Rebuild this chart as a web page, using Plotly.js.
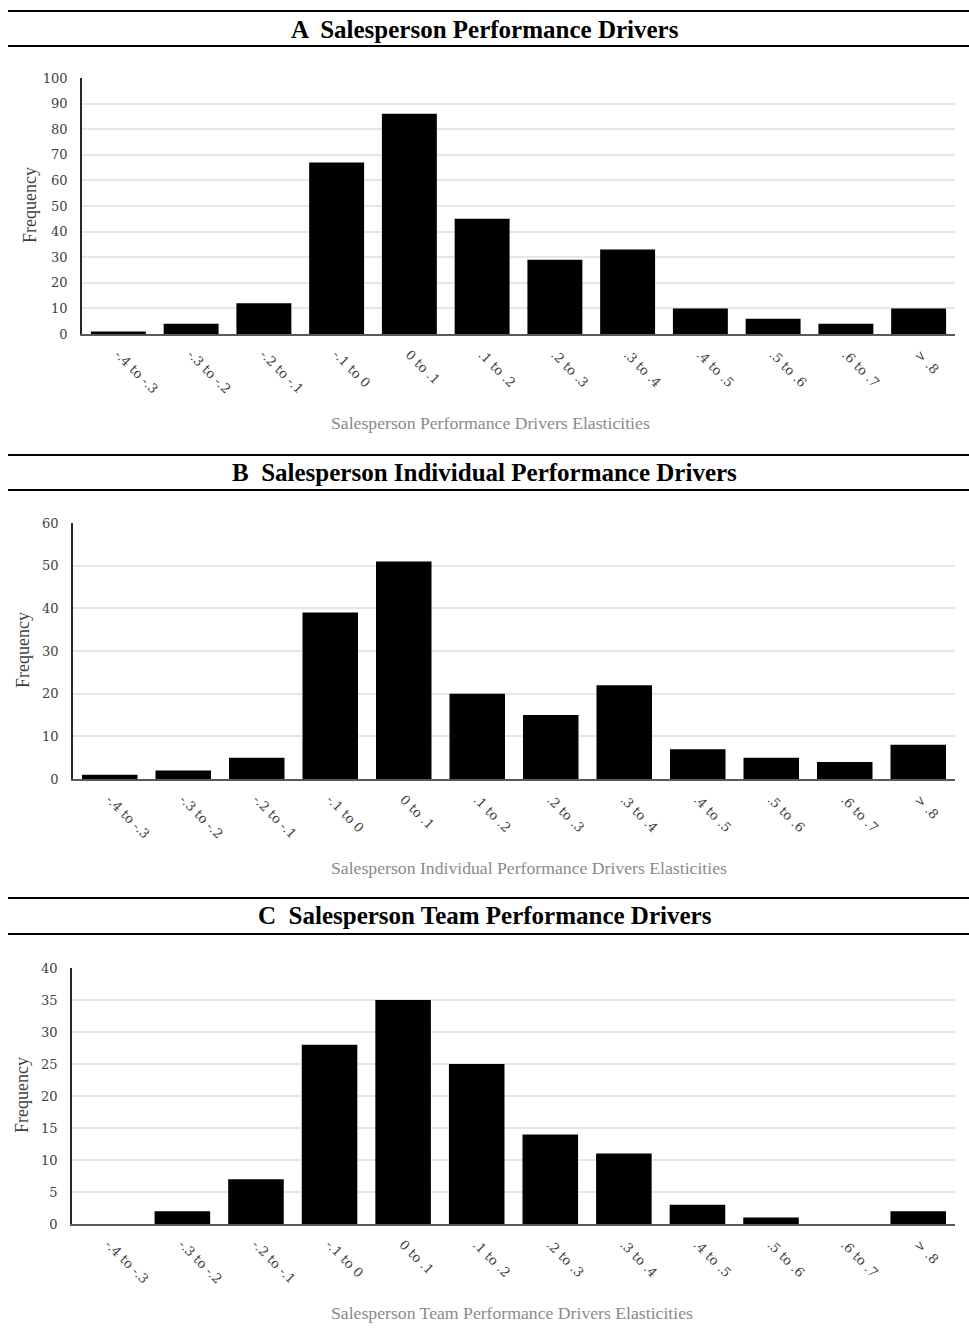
<!DOCTYPE html>
<html>
<head>
<meta charset="utf-8">
<script src="https://cdn.plot.ly/plotly-3.0.1.min.js"></script>
<style>html,body{margin:0;padding:0;background:#fff;}#chart{width:969px;height:1333px;}</style>
</head>
<body>
<div id="chart"></div>
<script>
const categories = ["-.4 to -.3", "-.3 to -.2", "-.2 to -.1", "-.1 to 0", "0 to .1", ".1 to .2", ".2 to .3", ".3 to .4", ".4 to .5", ".5 to .6", ".6 to .7", "> .8"];
const valuesA = [1, 4, 12, 67, 86, 45, 29, 33, 10, 6, 4, 10];
const valuesB = [1, 2, 5, 39, 51, 20, 15, 22, 7, 5, 4, 8];
const valuesC = [0, 2, 7, 28, 35, 25, 14, 11, 3, 1, 0, 2];
const panelTitles = ["A  Salesperson Performance Drivers", "B  Salesperson Individual Performance Drivers", "C  Salesperson Team Performance Drivers"];
const xTitles = ["Salesperson Performance Drivers Elasticities", "Salesperson Individual Performance Drivers Elasticities", "Salesperson Team Performance Drivers Elasticities"];
const yTitle = "Frequency";
const yRanges = [[0, 100], [0, 60], [0, 40]];
const yDtick = [10, 10, 5];

const W = 969, H = 1333;
const px = x => x / W;
const py = y => 1 - y / H;

// geometry per panel (pixels)
const geo = [
  {x0: 82, x1: 955, yTop: 78, yBot: 334, line1: 11, line2: 46, titleY: 29, xTitleY: 423, yTitleX: 30},
  {x0: 73, x1: 955, yTop: 523, yBot: 779, line1: 455, line2: 490, titleY: 472, xTitleY: 868, yTitleX: 23},
  {x0: 72, x1: 955, yTop: 968, yBot: 1224, line1: 898, line2: 934, titleY: 915, xTitleY: 1313, yTitleX: 22}
];
const series = [valuesA, valuesB, valuesC];

const serif = "Liberation Serif, DejaVu Serif, serif";
const serifWide = "DejaVu Serif, Liberation Serif, serif";
const data = series.map((vals, i) => ({
  type: 'bar',
  x: categories,
  y: vals,
  xaxis: i === 0 ? 'x' : 'x' + (i + 1),
  yaxis: i === 0 ? 'y' : 'y' + (i + 1),
  marker: {color: '#000000', line: {width: 0}},
  hoverinfo: 'x+y'
}));

const layout = {
  width: W, height: H,
  margin: {l: 0, r: 0, t: 0, b: 0},
  paper_bgcolor: '#ffffff',
  plot_bgcolor: '#ffffff',
  showlegend: false,
  bargap: 0.245,
  shapes: [],
  annotations: []
};

geo.forEach((g, i) => {
  const sx = i === 0 ? '' : String(i + 1);
  layout['xaxis' + sx] = {
    domain: [px(g.x0), px(g.x1)],
    anchor: 'y' + sx,
    type: 'category',
    tickangle: 45,
    showgrid: false,
    showline: true,
    linecolor: '#595959',
    linewidth: 1.5,
    ticks: '',
    ticklabelstandoff: 6,
    tickfont: {family: serifWide, size: 13, color: '#404040'},
    fixedrange: true
  };
  layout['yaxis' + sx] = {
    domain: [py(g.yBot), py(g.yTop)],
    anchor: 'x' + sx,
    range: yRanges[i],
    dtick: yDtick[i],
    tick0: 0,
    showgrid: true,
    gridcolor: '#e6e6e6',
    gridwidth: 1.5,
    zeroline: false,
    showline: true,
    linecolor: '#262626',
    linewidth: 1.5,
    ticks: '',
    ticklabelstandoff: 10,
    tickfont: {family: serifWide, size: 13, color: '#404040'},
    fixedrange: true
  };
  [g.line1, g.line2].forEach(ly => {
    layout.shapes.push({type: 'line', xref: 'paper', yref: 'paper', x0: px(8), x1: px(969), y0: py(ly), y1: py(ly), line: {color: '#000000', width: 2}});
  });
  layout.annotations.push({
    xref: 'paper', yref: 'paper', x: px(485), y: py(g.titleY), xanchor: 'center', yanchor: 'middle',
    text: '<b>' + panelTitles[i] + '</b>', showarrow: false,
    font: {family: serif, size: 25, color: '#000000'}
  });
  layout.annotations.push({
    xref: 'paper', yref: 'paper', x: px(329), y: py(g.xTitleY), xanchor: 'left', yanchor: 'middle',
    text: xTitles[i], showarrow: false,
    font: {family: serif, size: 17.7, color: '#8a8a8a'}
  });
  layout.annotations.push({
    xref: 'paper', yref: 'paper', x: px(g.yTitleX), y: py((g.yTop + g.yBot) / 2 - 1), xanchor: 'center', yanchor: 'middle',
    text: yTitle, showarrow: false, textangle: -90,
    font: {family: serif, size: 18, color: '#404040'}
  });
});

Plotly.newPlot('chart', data, layout, {displayModeBar: false});
</script>
</body>
</html>
